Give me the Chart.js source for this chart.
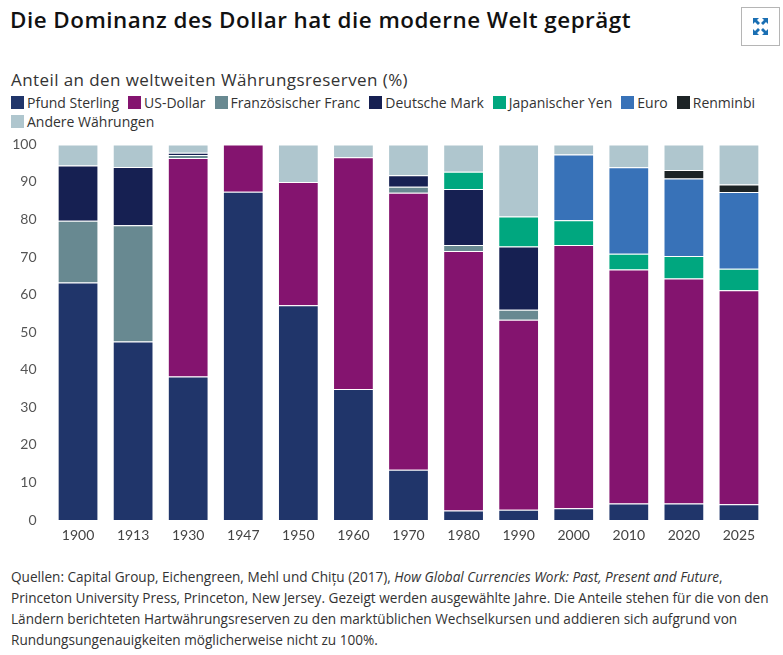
<!DOCTYPE html>
<html>
<head>
<meta charset="utf-8">
<script src="https://cdn.jsdelivr.net/npm/chart.js@4/dist/chart.umd.min.js"></script>
<style>
  html, body { margin: 0; padding: 0; background: #fff; }
  body { width: 783px; height: 655px; position: relative; overflow: hidden; font-family: "Open Sans", Lato, sans-serif; color: #222; }
  #title { position: absolute; left: 10px; top: 4px; font-size: 22.4px; letter-spacing: 0.5px; font-weight: 600; color: #111; white-space: nowrap; }
  #expand { position: absolute; left: 741px; top: 7px; width: 39px; height: 39px; border: 1px solid #b5b5b5; box-sizing: border-box; }
  #subtitle { position: absolute; left: 11px; top: 68px; font-size: 17px; letter-spacing: 0.42px; color: #333; white-space: nowrap; }
  #legend { position: absolute; left: 11px; top: 94px; width: 760px; display: flex; flex-wrap: wrap; row-gap: 2px; }
  .li { display: flex; align-items: center; margin-right: 9px; height: 17px; font-size: 14px; color: #333; white-space: nowrap; }
  .sw { width: 13px; height: 13px; margin-right: 3px; }
  #wrap { position: absolute; left: 0; top: 122px; width: 783px; height: 433px; }
  #foot { position: absolute; left: 11px; top: 566px; width: 772px; font-size: 13.6px; letter-spacing: 0; line-height: 21px; color: #333; white-space: nowrap; }
</style>
</head>
<body>
<div id="title">Die Dominanz des Dollar hat die moderne Welt geprägt</div>
<div id="expand">
  <svg width="37" height="37" viewBox="0 0 37 37">
    <g fill="#1a6fb3">
      <polygon points="11,10 17,10 15,12 18,15 16,17 13,14 11,16"/>
      <polygon points="26,10 20,10 22,12 19,15 21,17 24,14 26,16"/>
      <polygon points="11,27 17,27 15,25 18,22 16,20 13,23 11,21"/>
      <polygon points="26,27 20,27 22,25 19,22 21,20 24,23 26,21"/>
    </g>
  </svg>
</div>
<div id="subtitle">Anteil an den weltweiten Währungsreserven (%)</div>
<div id="legend"></div>
<div id="wrap"><canvas id="c"></canvas></div>
<div id="foot">Quellen: Capital Group, Eichengreen, Mehl und Chițu (2017), <i>How Global Currencies Work: Past, Present and Future</i>,<br>Princeton University Press, Princeton, New Jersey. Gezeigt werden ausgewählte Jahre. Die Anteile stehen für die von den<br>Ländern berichteten Hartwährungsreserven zu den marktüblichen Wechselkursen und addieren sich aufgrund von<br>Rundungsungenauigkeiten möglicherweise nicht zu 100%.</div>
<script>
const years = ['1900','1913','1930','1947','1950','1960','1970','1980','1990','2000','2010','2020','2025'];
const yTicks = [0,10,20,30,40,50,60,70,80,90,100];

const pfundSterling     = [63.2, 47.5, 38.2, 87.4, 57.2, 34.9, 13.4, 2.5, 2.7, 3.1, 4.4, 4.4, 4.2];
const usDollar          = [null, null, 58.2, 12.6, 32.8, 61.7, 73.7, 69.1, 50.6, 70.1, 62.3, 59.9, 57.0];
const franzFranc        = [16.5, 31.0, 0.8, null, null, null, 1.6, 1.6, 2.7, null, null, null, null];
const deutscheMark      = [14.7, 15.5, 0.6, null, null, null, 3.1, 14.9, 16.8, null, null, null, null];
const japanischerYen    = [null, null, null, null, null, null, null, 4.6, 8.0, 6.6, 4.2, 6.0, 5.7];
const euro              = [null, null, null, null, null, null, null, null, null, 17.5, 23.0, 20.6, 20.4];
const renminbi          = [null, null, null, null, null, null, null, null, null, null, null, 2.3, 2.0];
const andereWaehrungen  = [5.6, 6.0, 2.2, null, 10.0, 3.4, 8.2, 7.3, 19.2, 2.7, 6.1, 6.8, 10.7];

const seriesNames = ['Pfund Sterling','US-Dollar','Französischer Franc','Deutsche Mark','Japanischer Yen','Euro','Renminbi','Andere Währungen'];
const seriesData = [pfundSterling, usDollar, franzFranc, deutscheMark, japanischerYen, euro, renminbi, andereWaehrungen];
const seriesColors = ['#20356a','#84146f','#688991','#162052','#00a77f','#3872b8','#1d2426','#afc6ce'];

const legend = document.getElementById('legend');
seriesNames.forEach((n, i) => {
  const d = document.createElement('div'); d.className = 'li';
  const s = document.createElement('span'); s.className = 'sw'; s.style.background = seriesColors[i];
  d.appendChild(s); d.appendChild(document.createTextNode(n)); legend.appendChild(d);
});

const datasets = seriesNames.map((n, i) => ({
  label: n, data: seriesData[i], backgroundColor: seriesColors[i],
  borderColor: 'rgba(255,255,255,0.65)', borderWidth: 1,
  barPercentage: 0.74, categoryPercentage: 1.0
}));

new Chart(document.getElementById('c'), {
  type: 'bar',
  data: { labels: years, datasets },
  options: {
    responsive: true, maintainAspectRatio: false, animation: false,
    layout: { padding: { top: 7, right: 16.5, left: 0, bottom: 0 } },
    plugins: { legend: { display: false }, tooltip: { enabled: false } },
    scales: {
      x: {
        stacked: true,
        grid: { display: false, drawTicks: false }, border: { display: false },
        ticks: { color: '#444', font: { family: 'Lato', size: 14 }, padding: 7 },
        afterFit: s => { s.height = 35; }
      },
      y: {
        stacked: true, min: 0, max: 100,
        afterBuildTicks: s => { s.ticks = yTicks.map(v => ({ value: v })); },
        grid: { display: false, drawTicks: false }, border: { display: false },
        ticks: { color: '#555', font: { family: 'Lato', size: 14 }, padding: 14 },
        afterFit: s => { s.width = 50.5; }
      }
    }
  }
});
</script>
</body>
</html>
